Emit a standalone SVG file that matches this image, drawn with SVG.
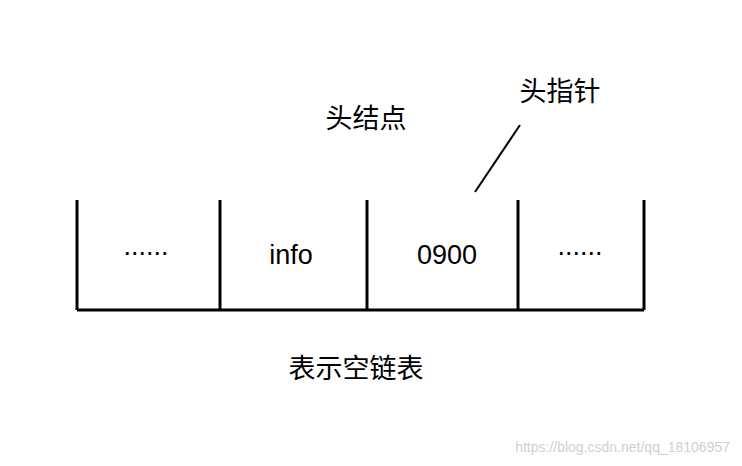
<svg xmlns="http://www.w3.org/2000/svg" width="742" height="466" viewBox="0 0 742 466">
<style>
.l{stroke:#000;stroke-width:3;fill:none}
.t{font-family:"Liberation Sans","Noto Sans CJK SC",sans-serif;font-size:27px;fill:#000;text-anchor:middle}
</style>
<rect width="742" height="466" fill="#fff"/>
<g id="connectors">
<path class="l" d="M77,200V310M220,200V310M367,200V310M518,200V310M644,200V310M77,310H644"/>
<path d="M520,125L475,192" stroke="#000" stroke-width="2"/>
</g>
<g id="cell1"><text class="t" x="146" y="255">......</text></g>
<g id="cell2"><text class="t" x="291" y="264">info</text></g>
<g id="cell3"><text class="t" x="447" y="264">0900</text></g>
<g id="cell4"><text class="t" x="580" y="255">......</text></g>
<g id="head"><text class="t" x="366" y="128">头结点</text></g>
<g id="ptr"><text class="t" x="560" y="101">头指针</text></g>
<g id="caption"><text class="t" x="356" y="378">表示空链表</text></g>
<text x="730" y="452" font-family="Liberation Sans,sans-serif" font-size="14" fill="#d0d0d0" text-anchor="end">https://blog.csdn.net/qq_18106957</text>
</svg>
